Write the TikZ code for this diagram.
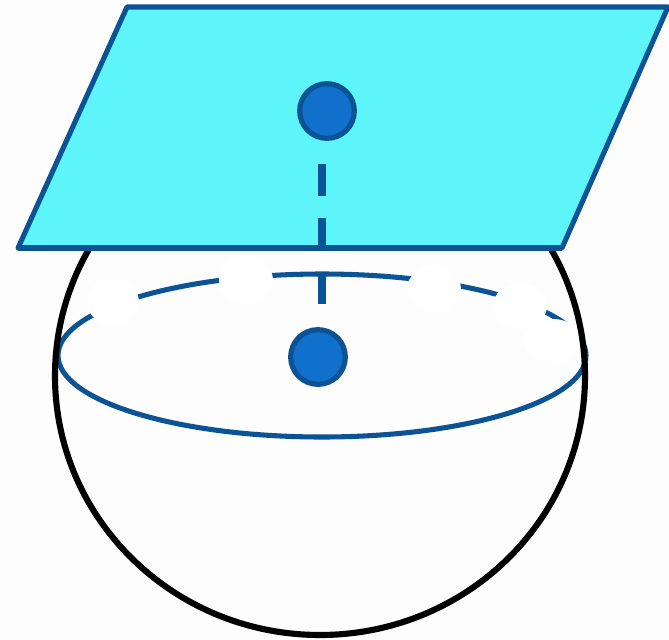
\documentclass[tikz,border=0pt]{standalone}
\usepackage{tikz}
\definecolor{planecyan}{HTML}{5DF5FA}
\definecolor{edgeblue}{HTML}{0B5394}
\definecolor{dotblue}{HTML}{1070CC}
\definecolor{paper}{HTML}{FDFDFD}

\begin{document}
\begin{tikzpicture}[x=0.75pt, y=-0.75pt,
    edge/.style={draw=edgeblue, line width=3.8pt},
    dot/.style={circle, draw=edgeblue, fill=dotblue, line width=3.9pt, inner sep=0pt, minimum size=41pt}]
  \fill[paper] (0,0) rectangle (669,640);
  \useasboundingbox (0,0) rectangle (669,640);

  \draw[edge] (322,355.5) ellipse [x radius=264, y radius=81.5];
  \foreach \cx/\cy/\rx/\ry in {113/302/26/23, 246/280/27/23, 434/289/27/23, 520/306/27/23, 553/341/29/22}
    \fill[white] (\cx,\cy) ellipse [x radius=\rx, y radius=\ry];
  \draw[black, line width=4.6pt] (320,376) ellipse [x radius=265, y radius=259];

  \draw[edge, fill=planecyan, line join=round]
    (127,7) -- (668,7) -- (562,248) -- (18,248) -- cycle;

  \node[dot] (upperdot) at (327,111) {};
  \node[dot] (lowerdot) at (318,357) {};
  \coordinate (dashtop) at (321.5,164);
  \coordinate (dashend) at (321.5,308);
  \draw[edgeblue, line width=6pt, dash pattern=on 24pt off 16.5pt] (dashtop) -- (dashend);
  % plane edge stays on top of the dash
  \draw[edge] (18,248) -- (562,248);
\end{tikzpicture}
\end{document}
